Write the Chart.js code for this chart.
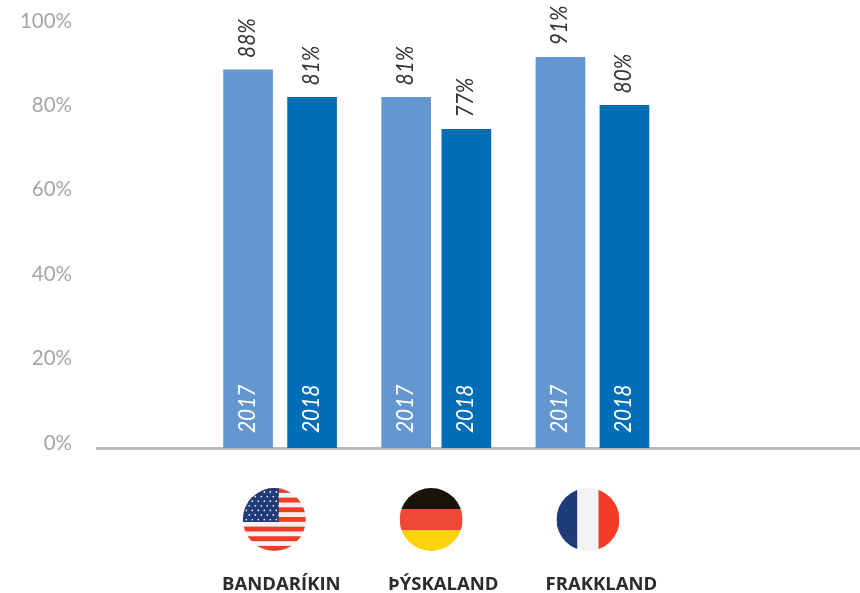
<!DOCTYPE html>
<html>
<head>
<meta charset="utf-8">
<style>
html, body { margin: 0; padding: 0; background: #fff; }
canvas { display: block; }
</style>
<script src="https://cdn.jsdelivr.net/npm/chart.js@4"></script>
</head>
<body>
<canvas id="myChart" width="860" height="593"></canvas>
<script>
// heights as drawn in the picture (the 77% bar is drawn lower than its label says)
const barValues = [88.4, 81.9, 81.9, 74.3, 91.4, 80]
const barLabels = ['88%', '81%', '81%', '77%', '91%', '80%']
const barYears = ['2017', '2018', '2017', '2018', '2017', '2018']
// bar slots on the x axis, 1 unit = distance between the two bars of a pair
const barSlots = [0, 1, 2.47, 3.41, 4.88, 5.88]
const yTicks = [0, 20, 40, 60, 80, 100]
const countries = ['BANDARÍKIN', 'ÞÝSKALAND', 'FRAKKLAND']
const flagNames = ['us', 'de', 'fr']
const flagSlots = [0.41, 2.86, 5.31]
const countrySlots = [0.52, 3.05, 5.52]

const LIGHT = '#6497cf'
const DARK = '#006db6'
const BASE = -1.19
const FLAG_Y = 519.5
const FLAG_R = 31.5
const NAME_Y = 585

function drawFlag(ctx, name, cx, cy, r) {
    ctx.save()
    ctx.beginPath()
    ctx.arc(cx, cy, r, 0, Math.PI * 2)
    ctx.clip()
    const x = cx - r, y = cy - r, d = r * 2
    if (name == 'de') {
        ctx.fillStyle = '#1a1307'; ctx.fillRect(x, y, d, d / 3)
        ctx.fillStyle = '#ef4836'; ctx.fillRect(x, y + d / 3, d, d / 3)
        ctx.fillStyle = '#ffd20a'; ctx.fillRect(x, y + 2 * d / 3, d, d / 3)
    } else if (name == 'fr') {
        ctx.fillStyle = '#203c78'; ctx.fillRect(x, y, d / 3, d)
        ctx.fillStyle = '#f2f3f5'; ctx.fillRect(x + d / 3, y, d / 3, d)
        ctx.fillStyle = '#f53a26'; ctx.fillRect(x + 2 * d / 3, y, d / 3, d)
    } else {
        ctx.fillStyle = '#f2f3f5'; ctx.fillRect(x, y, d, d)
        ctx.fillStyle = '#f53a26'
        for (let i = 0; i < 7; i++) {
            ctx.fillRect(x, y + i * 9.65 , d, 4.9)
        }
        ctx.fillStyle = '#203c78'; ctx.fillRect(x, y, 36, 34)
        ctx.fillStyle = '#e8ecf4'
        for (let row = 0; row < 7; row++) {
            for (let col = 0; col < 6; col++) {
                ctx.beginPath()
                ctx.arc(x + 3.5 + col * 6 + (row % 2) * 3, y + 4 + row * 4.6, 0.9, 0, Math.PI * 2)
                ctx.fill()
            }
        }
    }
    ctx.restore()
}

function rotatedText(ctx, text, x, y, color) {
    ctx.save()
    ctx.translate(x, y)
    ctx.rotate(-Math.PI / 2)
    ctx.scale(0.87, 1)
    ctx.fillStyle = color
    ctx.textAlign = 'left'
    ctx.fillText(text, 0, 0)
    ctx.restore()
}

const barTexts = {
    id: 'barTexts',
    afterDatasetsDraw(chart) {
        const ctx = chart.ctx
        const bars = chart.getDatasetMeta(0).data
        const yScale = chart.scales.y
        ctx.save()
        ctx.font = 'italic 400 24px Lato'
        ctx.textBaseline = 'middle'
        bars.forEach((bar, i) => {
            rotatedText(ctx, barLabels[i], bar.x - 1, bar.y - 12, '#333333')
            rotatedText(ctx, barYears[i], bar.x - 1, yScale.bottom - 15, '#ffffff')
        })
        ctx.restore()
    }
}

const flagsAndNames = {
    id: 'flagsAndNames',
    afterDraw(chart) {
        const ctx = chart.ctx
        const xScale = chart.scales.x
        flagNames.forEach((name, i) => {
            drawFlag(ctx, name, xScale.getPixelForValue(flagSlots[i]), FLAG_Y, FLAG_R)
        })
        ctx.save()
        ctx.font = 'bold 18.5px "Open Sans"'
        ctx.fillStyle = '#2b2a2d'
        ctx.textAlign = 'center'
        ctx.textBaseline = 'middle'
        countries.forEach((name, i) => {
            ctx.fillText(name, xScale.getPixelForValue(countrySlots[i]), NAME_Y)
        })
        ctx.restore()
    }
}

new Chart(document.getElementById('myChart'), {
    type: 'bar',
    data: {
        datasets: [{
            data: barValues.map((v, i) => ({ x: barSlots[i], y: v })),
            backgroundColor: barYears.map(y => y == '2017' ? LIGHT : DARK),
            barThickness: 49,
            base: BASE
        }]
    },
    options: {
        responsive: false,
        animation: false,
        layout: { padding: { top: 21, bottom: 137 } },
        plugins: { legend: { display: false }, tooltip: { enabled: false } },
        scales: {
            x: {
                type: 'linear',
                offset: false,
                min: -2.36,
                max: 9.56,
                grid: { display: false },
                ticks: { display: false },
                border: { color: '#b9bbc0', width: 3 }
            },
            y: {
                min: BASE,
                max: 100,
                afterBuildTicks(axis) { axis.ticks = yTicks.map(v => ({ value: v })) },
                afterFit(axis) {
                    axis.width = 97
                    axis.paddingTop = 0
                    axis.paddingBottom = 0
                },
                grid: { display: false, drawTicks: false },
                border: { display: false },
                ticks: {
                    padding: 25,
                    color: '#a6a6a6',
                    font: { family: 'Lato', size: 20.5 },
                    callback: v => v + '%'
                }
            }
        }
    },
    plugins: [barTexts, flagsAndNames]
})
</script>
</body>
</html>
